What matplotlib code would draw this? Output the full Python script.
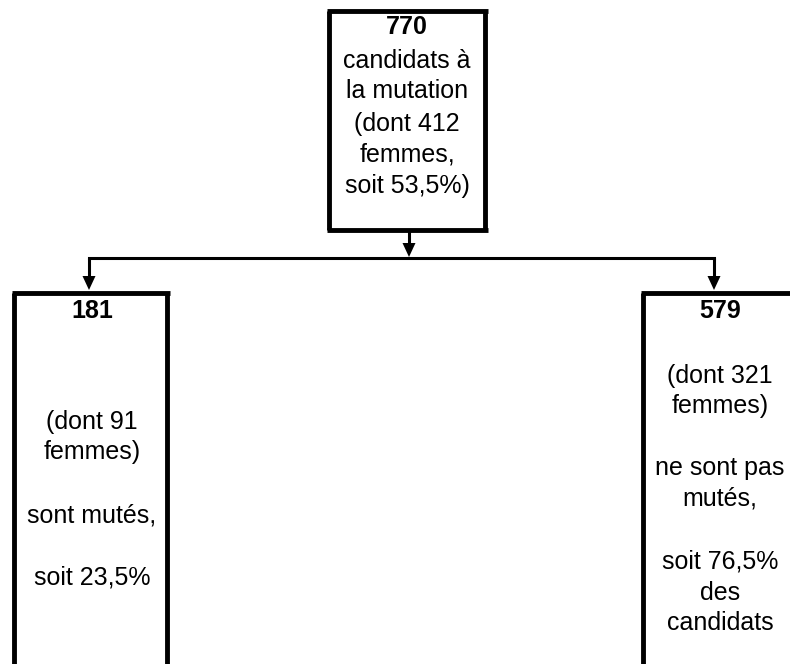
import matplotlib
matplotlib.use("Agg")
import matplotlib.pyplot as plt
from matplotlib.patches import Polygon

# Data
total = 770
total_women = 412
total_women_pct = "53,5%"
moved = 181
moved_women = 91
moved_pct = "23,5%"
not_moved = 579
not_moved_women = 321
not_moved_pct = "76,5%"

W, H = 790, 664
fig = plt.figure(figsize=(W / 100, H / 100), dpi=100)
ax = fig.add_axes([0, 0, 1, 1])
ax.set_xlim(0, W)
ax.set_ylim(H, 0)
ax.axis("off")

FONT = "Liberation Sans"
FS = 18
BOX_LW = 3.5
CON_LW = 2.2

def box(x0, x1, y0, y1, sides=("l", "r", "t", "b")):
    if "t" in sides:
        ax.plot([x0 - 2.5, x1 + 2.5], [y0, y0], color="black", lw=BOX_LW, solid_capstyle="butt")
    if "b" in sides:
        ax.plot([x0 - 2.5, x1 + 2.5], [y1, y1], color="black", lw=BOX_LW, solid_capstyle="butt")
    if "l" in sides:
        ax.plot([x0, x0], [y0, y1], color="black", lw=BOX_LW, solid_capstyle="butt")
    if "r" in sides:
        ax.plot([x1, x1], [y0, y1], color="black", lw=BOX_LW, solid_capstyle="butt")

def arrow_down(x, y0, y1):
    ax.plot([x, x], [y0, y1 - 10], color="black", lw=CON_LW, solid_capstyle="butt")
    ax.add_patch(Polygon([[x - 6.5, y1 - 14], [x + 6.5, y1 - 14], [x, y1]], closed=True,
                         color="black", lw=0))

def lines(x, ys, texts, bold_first=True):
    for i, (y, t) in enumerate(zip(ys, texts)):
        ax.text(x, y, t, ha="center", va="center_baseline", fontsize=FS, family=FONT,
                fontweight="bold" if (i == 0 and bold_first) else "normal")

# Top box
box(329, 485, 11, 230)
lines(407, [25, 58, 89, 121, 152, 184],
      [str(total), "candidats à", "la mutation", f"(dont {total_women}",
       "femmes,", f"soit {total_women_pct})"])

# Connectors
arrow_down(409, 230, 257)
ax.plot([89, 714], [258, 258], color="black", lw=CON_LW, solid_capstyle="projecting")
arrow_down(89, 258, 290)
arrow_down(714, 258, 290)

# Left box
box(14, 167, 293, 700, sides=("l", "r", "t"))
lines(92, [309, 419, 450, 513, 575],
      [str(moved), f"(dont {moved_women}", "femmes)", "sont mutés,", f"soit {moved_pct}"])

# Right box
box(643, 800, 293, 700, sides=("l", "t"))
lines(720, [309, 373, 403, 466, 496, 559, 590, 620],
      [str(not_moved), f"(dont {not_moved_women}", "femmes)", "ne sont pas", "mutés,",
       f"soit {not_moved_pct}", "des", "candidats"])

fig.savefig("out.png", dpi=100, facecolor="white")
